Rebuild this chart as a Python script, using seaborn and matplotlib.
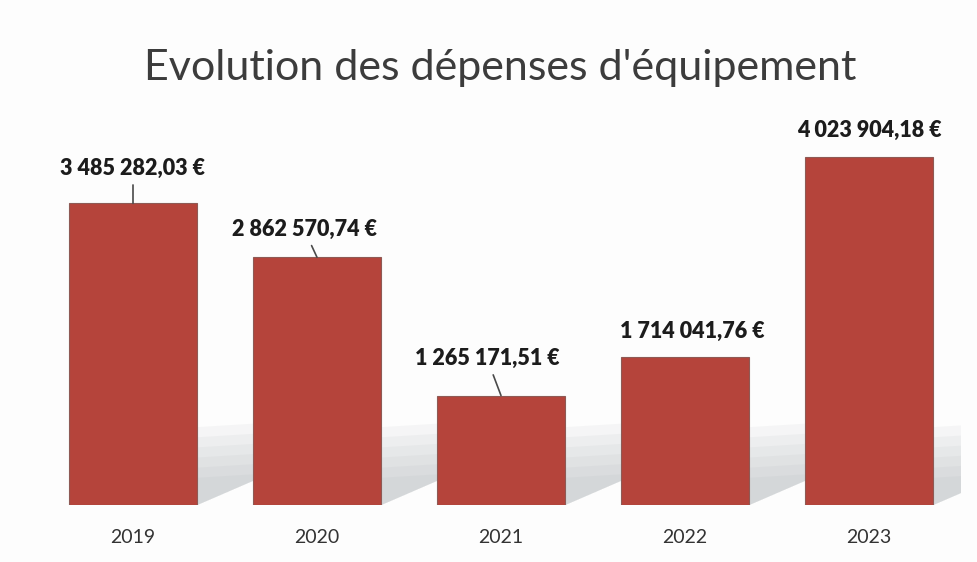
import matplotlib
matplotlib.use("Agg")
import matplotlib.pyplot as plt
import seaborn as sns
import pandas as pd
import numpy as np
from matplotlib.patches import Polygon

# Equipment spending per year (euros)
years = ["2019", "2020", "2021", "2022", "2023"]
spending = [3485282.03, 2862570.74, 1265171.51, 1714041.76, 4023904.18]
value_labels = ["3 485 282,03 €", "2 862 570,74 €", "1 265 171,51 €",
                "1 714 041,76 €", "4 023 904,18 €"]

# label offsets from bar top (pixels) and whether a leader line is drawn
label_dx = [0, -13, -14, 7, 0]
label_dy = [35, 28, 37, 25, 26]
leader = [True, True, True, False, False]

df = pd.DataFrame({"year": years, "spending": spending})

sns.set_style("white")
plt.rcParams["font.family"] = ["Lato", "DejaVu Sans"]

W, H = 978, 562
fig = plt.figure(figsize=(W / 100, H / 100), dpi=100)
fig.patch.set_facecolor("#fdfdfd")
ax = fig.add_axes([41 / W, (H - 505) / H, 920 / W, 405 / H])
ax.set_facecolor("none")

sns.barplot(data=df, x="year", y="spending", color="#b5443b", saturation=1,
            width=0.70, edgecolor="#8e5a55", linewidth=0.8, ax=ax, zorder=3)

ax.set_xlim(-0.5, 4.5)
ax.set_ylim(0, 4.68e6)

# soft cast shadow behind the right edge of each bar
for i, v in enumerate(spending):
    right = i + 0.35
    top = min(v, 0.9e6)
    for k in range(6):
        f = 1 - k * 0.13
        poly = Polygon([(right, 0), (right, top * f), (right + 0.38, top * f + 0.05e6),
                        (right + 0.38, 0.35e6)],
                       closed=True, facecolor="#9aa2a6", edgecolor="none",
                       alpha=0.08, zorder=1)
        ax.add_patch(poly)

# value labels with leader lines
for i, v in enumerate(spending):
    arrow = dict(arrowstyle="-", color="#4a4a4a", lw=1.2, shrinkA=2, shrinkB=0) if leader[i] else None
    ax.annotate(value_labels[i], xy=(i, v), xytext=(label_dx[i], label_dy[i]),
                textcoords="offset pixels", ha="center", va="center",
                fontsize=15.5, fontweight="heavy", color="#1c1c1c",
                arrowprops=arrow, zorder=5)

ax.set_xlabel("")
ax.set_ylabel("")
ax.set_yticks([])
ax.tick_params(axis="x", length=0, pad=17, labelsize=14, labelcolor="#333333")
for s in ax.spines.values():
    s.set_visible(False)

fig.text(0.511, 1 - 68 / H, "Evolution des dépenses d'équipement",
         ha="center", va="center", fontsize=31, color="#3c3c3c")

fig.savefig("out.png", dpi=100, facecolor=fig.get_facecolor())
